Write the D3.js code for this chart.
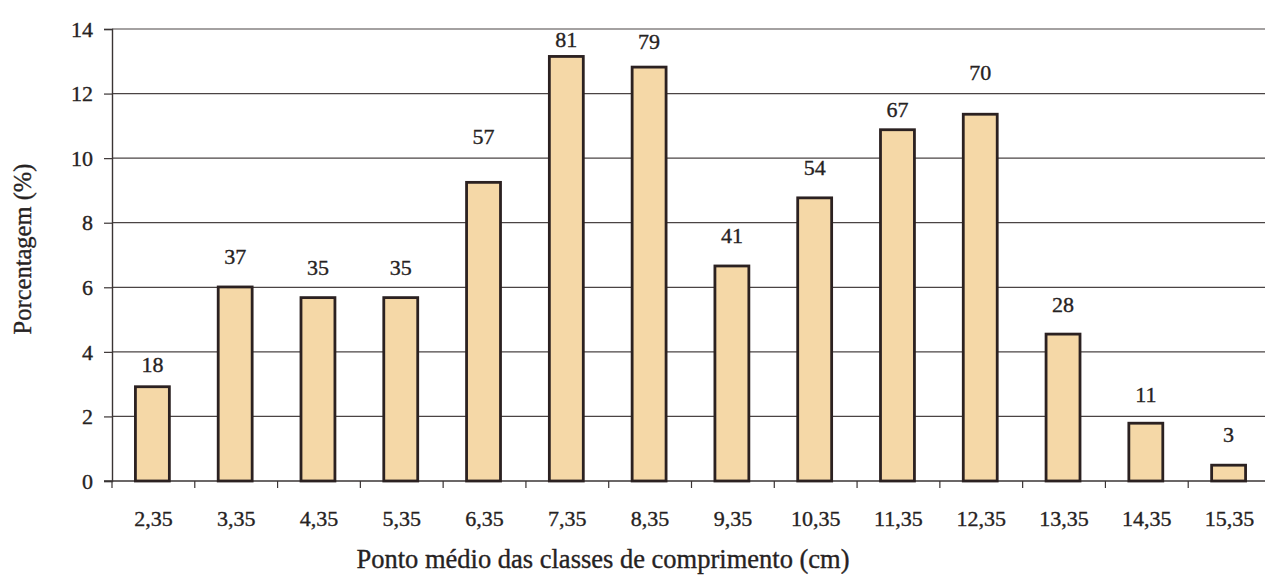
<!DOCTYPE html>
<html>
<head>
<meta charset="utf-8">
<script src="https://cdn.jsdelivr.net/npm/d3@7"></script>
<style>
  html, body { margin: 0; padding: 0; background: #fff; }
  svg { display: block; }
  text { font-family: "Liberation Serif", "Times New Roman", serif; fill: #262222; stroke: #262222; stroke-width: 0.35px; }
</style>
</head>
<body>
<svg id="chart" width="1265" height="576"></svg>
<script>
// Length classes (mid-point, cm)
const classes = ["2,35", "3,35", "4,35", "5,35", "6,35", "7,35", "8,35",
                 "9,35", "10,35", "11,35", "12,35", "13,35", "14,35", "15,35"];
// Number of individuals per class
const counts = [18, 37, 35, 35, 57, 81, 79, 41, 54, 67, 70, 28, 11, 3];
// Percentage per class
const percents = [2.92, 6.01, 5.68, 5.68, 9.25, 13.15, 12.82,
                  6.66, 8.77, 10.88, 11.36, 4.55, 1.79, 0.49];
// Y axis ticks
const yTicks = [0, 2, 4, 6, 8, 10, 12, 14];

const svg = d3.select("#chart");
const plot = { left: 112, right: 1271, top: 29, bottom: 481 };

const x = d3.scaleBand().domain(classes).range([plot.left, plot.right]).padding(0);
const y = d3.scaleLinear().domain([0, 14]).range([plot.bottom, plot.top]);

// Horizontal gridlines
svg.append("g")
  .selectAll("line")
  .data(yTicks.filter(d => d > 0))
  .join("line")
  .attr("x1", plot.left).attr("x2", 1265)
  .attr("y1", d => y(d)).attr("y2", d => y(d))
  .attr("stroke", "#4a4444").attr("stroke-width", 1.2);

// Y axis
const yAxis = svg.append("g")
  .attr("transform", `translate(${plot.left},0)`)
  .call(d3.axisLeft(y).tickValues(yTicks).tickSize(8).tickPadding(11).tickFormat(d3.format("d")));
yAxis.select(".domain").attr("stroke", "#3a3434").attr("stroke-width", 1.4);
yAxis.selectAll(".tick line").attr("stroke", "#3a3434").attr("stroke-width", 1.2);
yAxis.selectAll(".tick text")
  .attr("font-size", 22)
  .attr("dy", "0.33em");

// X axis: ticks sit on the class boundaries
const xAxisG = svg.append("g").attr("transform", `translate(0,${plot.bottom})`);
xAxisG.append("line")
  .attr("x1", plot.left - 8).attr("x2", 1265)
  .attr("stroke", "#3a3434").attr("stroke-width", 1.5);
xAxisG.selectAll("line.tk")
  .data(classes)
  .join("line").attr("class", "tk")
  .attr("x1", d => x(d)).attr("x2", d => x(d))
  .attr("y1", 0).attr("y2", 7)
  .attr("stroke", "#3a3434").attr("stroke-width", 1.2);
xAxisG.selectAll("text")
  .data(classes)
  .join("text")
  .attr("x", d => x(d) + x.bandwidth() / 2)
  .attr("y", 45)
  .attr("text-anchor", "middle")
  .attr("font-size", 22)
  .text(d => d);

// Bars
const barW = x.bandwidth() * 0.41;
svg.append("g")
  .selectAll("rect")
  .data(percents)
  .join("rect")
  .attr("x", (d, i) => x(classes[i]) + (x.bandwidth() - barW) / 2 - 1)
  .attr("y", d => y(d))
  .attr("width", barW)
  .attr("height", d => y(0) - y(d))
  .attr("fill", "#f5d8a7")
  .attr("stroke", "#2b2121")
  .attr("stroke-width", 2.8);

// Count labels above the bars (hand-placed gaps, px)
const labelGap = [13, 22, 21, 21, 37, 8, 17, 22, 21, 11, 33, 21, 20, 22];
svg.append("g")
  .selectAll("text")
  .data(counts)
  .join("text")
  .attr("x", (d, i) => x(classes[i]) + x.bandwidth() / 2 - 1)
  .attr("y", (d, i) => y(percents[i]) - 1.4 - labelGap[i])
  .attr("text-anchor", "middle")
  .attr("font-size", 22)
  .text(d => d);

// Axis titles
svg.append("text")
  .attr("transform", "translate(31,249) rotate(-90)")
  .attr("text-anchor", "middle")
  .attr("font-size", 24.5)
  .text("Porcentagem (%)");

svg.append("text")
  .attr("x", 603).attr("y", 568)
  .attr("text-anchor", "middle")
  .attr("font-size", 26.5)
  .text("Ponto médio das classes de comprimento (cm)");
</script>
</body>
</html>
